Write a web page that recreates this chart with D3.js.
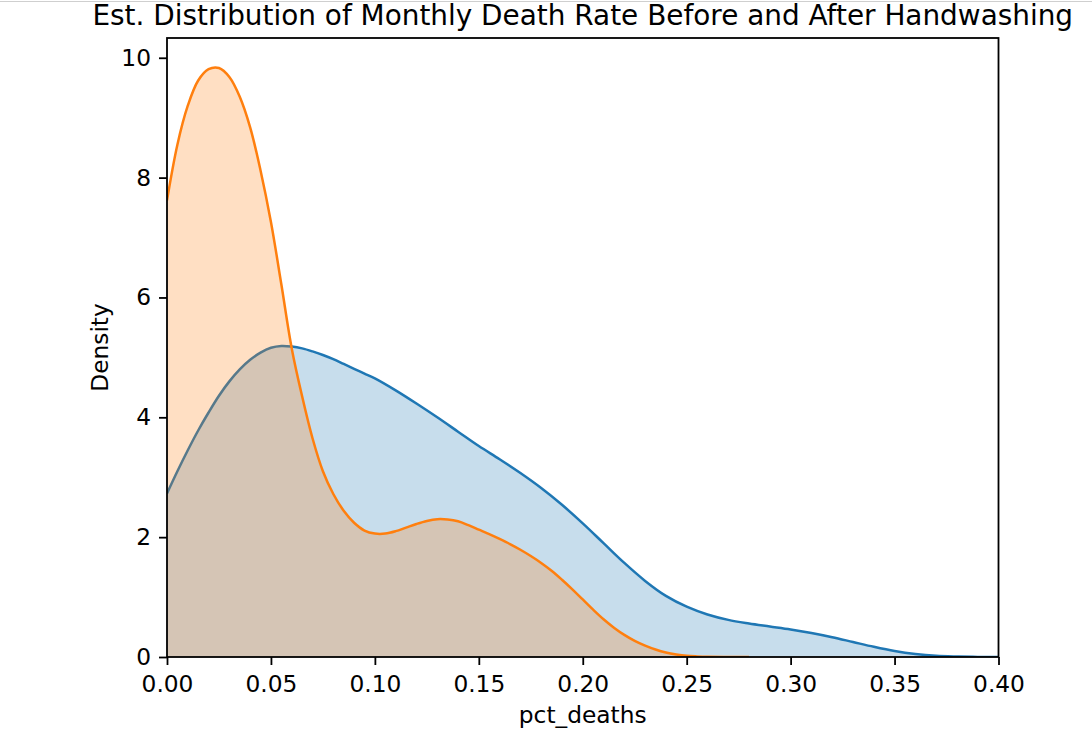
<!DOCTYPE html>
<html>
<head>
<meta charset="utf-8">
<script src="https://cdn.jsdelivr.net/npm/d3@7"></script>
<style>
  body { margin: 0; background: #fff; }
  svg { display: block; font-family: "DejaVu Sans", sans-serif; }
</style>
</head>
<body>
<svg></svg>
<script>
// KDE curves (x = pct_deaths, y = density)
let beforeX = [0, 0.005, 0.01, 0.015, 0.02, 0.025, 0.03, 0.035, 0.04, 0.045, 0.05, 0.055, 0.06, 0.065, 0.07, 0.075, 0.08, 0.085, 0.09, 0.095, 0.1, 0.11, 0.12, 0.13, 0.14, 0.15, 0.16, 0.17, 0.18, 0.19, 0.2, 0.21, 0.22, 0.23, 0.24, 0.25, 0.26, 0.27, 0.28, 0.29, 0.3, 0.31, 0.32, 0.33, 0.34, 0.35, 0.36, 0.37, 0.38, 0.39, 0.4]
let beforeY = [2.73, 3.1, 3.45, 3.78, 4.08, 4.36, 4.6, 4.8, 4.96, 5.08, 5.16, 5.19, 5.18, 5.15, 5.1, 5.04, 4.97, 4.89, 4.81, 4.73, 4.65, 4.45, 4.23, 4.0, 3.76, 3.52, 3.3, 3.07, 2.82, 2.54, 2.23, 1.9, 1.57, 1.27, 1.02, 0.84, 0.71, 0.62, 0.56, 0.51, 0.46, 0.4, 0.33, 0.25, 0.17, 0.1, 0.05, 0.02, 0.008, 0.002, 0]

let afterX = [0, 0.005, 0.01, 0.015, 0.02, 0.025, 0.03, 0.035, 0.04, 0.045, 0.05, 0.055, 0.06, 0.065, 0.07, 0.075, 0.08, 0.085, 0.09, 0.095, 0.1, 0.105, 0.11, 0.115, 0.12, 0.125, 0.13, 0.135, 0.14, 0.145, 0.15, 0.155, 0.16, 0.165, 0.17, 0.175, 0.18, 0.185, 0.19, 0.195, 0.2, 0.205, 0.21, 0.215, 0.22, 0.225, 0.23, 0.235, 0.24, 0.245, 0.25, 0.255, 0.26, 0.27, 0.28]
let afterY = [7.62, 8.55, 9.2, 9.62, 9.81, 9.83, 9.68, 9.35, 8.84, 8.12, 7.26, 6.22, 5.15, 4.35, 3.65, 3.1, 2.72, 2.44, 2.24, 2.11, 2.06, 2.06, 2.1, 2.16, 2.22, 2.27, 2.3, 2.295, 2.265, 2.2, 2.125, 2.05, 1.97, 1.885, 1.79, 1.685, 1.57, 1.44, 1.29, 1.13, 0.96, 0.79, 0.63, 0.49, 0.37, 0.27, 0.19, 0.125, 0.075, 0.042, 0.02, 0.01, 0.004, 0.001, 0]

let xTicks = [0, 0.05, 0.1, 0.15, 0.2, 0.25, 0.3, 0.35, 0.4]
let yTicks = [0, 2, 4, 6, 8, 10]

let width = 1092
let height = 748
let plotLeft = 167
let plotRight = 998.5
let plotTop = 38
let plotBottom = 657
let svg = d3.select('svg').attr('width', width).attr('height', height)

let xScale = d3.scaleLinear().domain([0, 0.4]).range([plotLeft, plotRight])
let yScale = d3.scaleLinear().domain([0, 10.33]).range([plotBottom, plotTop])

// thin grey line along the top of the screenshot
svg.append('line')
    .attr('x1', 0).attr('x2', width)
    .attr('y1', 1.5).attr('y2', 1.5)
    .attr('stroke', '#cfcfcf').attr('stroke-width', 1)

svg.append('clipPath').attr('id', 'plot')
    .append('rect')
    .attr('x', plotLeft).attr('y', plotTop)
    .attr('width', plotRight - plotLeft).attr('height', plotBottom - plotTop)

let drawKde = (xs, ys, color) => {
    let pts = xs.map((x, i) => [x, ys[i]])
    let area = d3.area()
        .x(d => xScale(d[0]))
        .y0(yScale(0))
        .y1(d => yScale(d[1]))
        .curve(d3.curveCatmullRom)
    let line = d3.line()
        .x(d => xScale(d[0]))
        .y(d => yScale(d[1]))
        .curve(d3.curveCatmullRom)
    let g = svg.append('g').attr('clip-path', 'url(#plot)')
    g.append('path')
        .attr('d', area(pts))
        .attr('fill', color)
        .attr('fill-opacity', 0.25)
    g.append('path')
        .attr('d', line(pts))
        .attr('fill', 'none')
        .attr('stroke', color)
        .attr('stroke-width', 2.5)
}

drawKde(beforeX, beforeY, '#1f77b4')
drawKde(afterX, afterY, '#ff7f0e')

// axes
let xAxis = d3.axisBottom(xScale)
    .tickValues(xTicks)
    .tickFormat(d3.format('.2f'))
    .tickSize(8)
    .tickPadding(10)
let gx = svg.append('g')
    .attr('transform', 'translate(0,' + plotBottom + ')')
    .call(xAxis)
let yAxis = d3.axisLeft(yScale)
    .tickValues(yTicks)
    .tickFormat(d3.format('d'))
    .tickSize(8)
    .tickPadding(8)
let gy = svg.append('g')
    .attr('transform', 'translate(' + plotLeft + ',0)')
    .call(yAxis)

;[gx, gy].forEach(g => {
    g.select('.domain').remove()
    g.selectAll('.tick line').attr('stroke', '#000').attr('stroke-width', 1.8)
    g.selectAll('.tick text')
        .attr('fill', '#000')
        .style('font-size', '23.3px')
        .style('font-family', '"DejaVu Sans", sans-serif')
})

// spines
svg.append('rect')
    .attr('x', plotLeft).attr('y', plotTop)
    .attr('width', plotRight - plotLeft).attr('height', plotBottom - plotTop)
    .attr('fill', 'none')
    .attr('stroke', '#000')
    .attr('stroke-width', 1.8)

svg.append('text')
    .attr('x', (plotLeft + plotRight) / 2)
    .attr('y', 24.5)
    .attr('text-anchor', 'middle')
    .style('font-size', '27.9px')
    .text('Est. Distribution of Monthly Death Rate Before and After Handwashing')

svg.append('text')
    .attr('x', (plotLeft + plotRight) / 2)
    .attr('y', 723)
    .attr('text-anchor', 'middle')
    .style('font-size', '23.3px')
    .text('pct_deaths')

svg.append('text')
    .attr('transform', 'translate(108,' + (plotTop + plotBottom) / 2 + ') rotate(-90)')
    .attr('text-anchor', 'middle')
    .style('font-size', '23.3px')
    .text('Density')
</script>
</body>
</html>
